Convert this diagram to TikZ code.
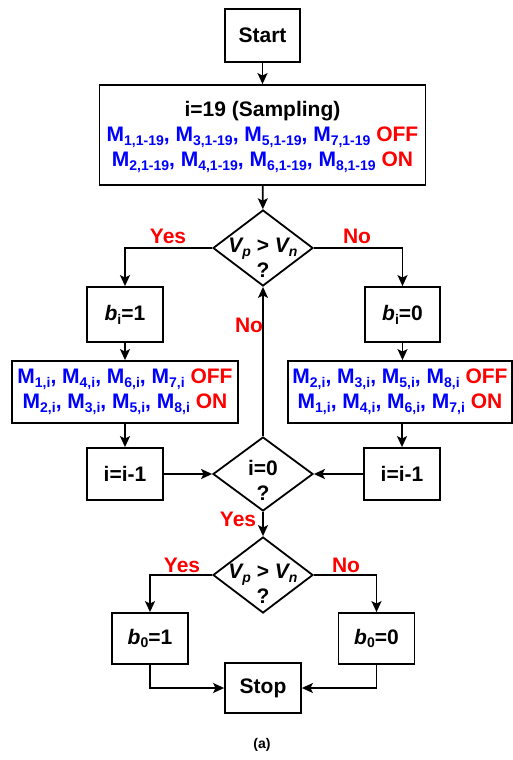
\documentclass[tikz,border=0pt]{standalone}
\usepackage{fontspec}
\setmainfont{Liberation Sans}
\usetikzlibrary{arrows.meta,shapes.geometric}
\definecolor{mblue}{RGB}{0,0,255}
\definecolor{mred}{RGB}{255,0,0}
\newcommand\sbx[1]{\raisebox{-0.35ex}{\fontsize{14}{14}\selectfont #1}}
\newcommand\mm[1]{M\sbx{#1}}
\tikzset{
  box/.style={draw, line width=1.8pt, inner sep=0pt, align=center, font=\fontsize{21}{25}\selectfont\bfseries},
  dia/.style={draw, diamond, line width=1.8pt, inner sep=0pt},
  txt/.style={inner sep=0pt, align=center, font=\fontsize{21}{25}\selectfont\bfseries},
  lbl/.style={inner sep=0pt, text=mred, font=\fontsize{21}{22}\selectfont\bfseries},
  arr/.style={line width=1.8pt, -{Stealth[length=11pt,width=10pt,inset=2.5pt]}}
}
\begin{document}
\begin{tikzpicture}[x=1pt,y=-1pt]
\useasboundingbox (0,0) rectangle (512,760);
\node[box, minimum width=75pt, minimum height=53pt] (start) at (262.5,35.5) {Start};
\node[box, minimum width=326pt, minimum height=100pt] (samp) at (262.5,135) {};
\node[txt] (samptxt) at (262.5,137) {i=19 (Sampling)\\
{\color{mblue}\mm{1,1-19}, \mm{3,1-19}, \mm{5,1-19}, \mm{7,1-19}} {\color{mred}OFF}\\
{\color{mblue}\mm{2,1-19}, \mm{4,1-19}, \mm{6,1-19}, \mm{8,1-19}} {\color{mred}ON}};
\node[dia, minimum width=100pt, minimum height=76pt] (d1) at (263,248) {};
\node[txt] (d1t) at (263,258) {\textit{V\sbx{p}} > \textit{V\sbx{n}}\\?};
\node[box, minimum width=76pt, minimum height=55pt] (bi1) at (125,314.5) {\textit{b}\sbx{i}=1};
\node[box, minimum width=75pt, minimum height=55pt] (bi0) at (402.5,314.5) {\textit{b}\sbx{i}=0};
\node[box, minimum width=226pt, minimum height=62pt] (ml) at (125,392) {{\color{mblue}\mm{1,i}, \mm{4,i}, \mm{6,i}, \mm{7,i}} {\color{mred}OFF}\\
{\color{mblue}\mm{2,i}, \mm{3,i}, \mm{5,i}, \mm{8,i}} {\color{mred}ON}};
\node[box, minimum width=224pt, minimum height=62pt] (mr) at (400,392) {{\color{mblue}\mm{2,i}, \mm{3,i}, \mm{5,i}, \mm{8,i}} {\color{mred}OFF}\\
{\color{mblue}\mm{1,i}, \mm{4,i}, \mm{6,i}, \mm{7,i}} {\color{mred}ON}};
\node[box, minimum width=76pt, minimum height=52pt] (il) at (125,474) {i=i-1};
\node[box, minimum width=76pt, minimum height=52pt] (ir) at (402,474) {i=i-1};
\node[dia, minimum width=100pt, minimum height=74pt] (d2) at (263,474) {};
\node[txt] (d2t) at (263,480) {i=0\\?};
\node[dia, minimum width=100pt, minimum height=76pt] (d3) at (263,575) {};
\node[txt] (d3t) at (263,584) {\textit{V\sbx{p}} > \textit{V\sbx{n}}\\?};
\node[box, minimum width=76pt, minimum height=51pt] (b01) at (150,638.5) {\textit{b}\sbx{0}=1};
\node[box, minimum width=76pt, minimum height=51pt] (b00) at (376.5,638.5) {\textit{b}\sbx{0}=0};
\node[box, minimum width=76pt, minimum height=50pt] (stop) at (263,688) {Stop};
\node[lbl] (y1) at (168,236) {Yes};
\node[lbl] (n1) at (357,236) {No};
\node[lbl] (n2) at (249,325) {No};
\node[lbl] (y2) at (238,519) {Yes};
\node[lbl] (y3) at (182,565) {Yes};
\node[lbl] (n3) at (346,565) {No};
\node[inner sep=0pt, font=\fontsize{14}{14}\selectfont\bfseries] (cap) at (262,745) {(a)};
\draw[arr] (start) -- (samp);
\draw[arr] (samp) -- (d1);
\draw[arr] (d1.west) -| (bi1.north);
\draw[arr] (d1.east) -| (bi0.north);
\draw[arr] (bi1) -- (ml);
\draw[arr] (bi0.south) -- (bi0.south |- mr.north);
\draw[arr] (ml.south -| il.north) -- (il.north);
\draw[arr] (mr.south -| ir.north) -- (ir.north);
\draw[arr] (il) -- (d2);
\draw[arr] (ir) -- (d2);
\draw[arr] (d2.north) -- (d1.south);
\draw[arr] (d2.south) -- (d3.north);
\draw[arr] (d3.west) -| (b01.north);
\draw[arr] (d3.east) -| (b00.north);
\draw[arr] (b01.south) |- (stop.west);
\draw[arr] (b00.south) |- (stop.east);
\end{tikzpicture}
\end{document}
